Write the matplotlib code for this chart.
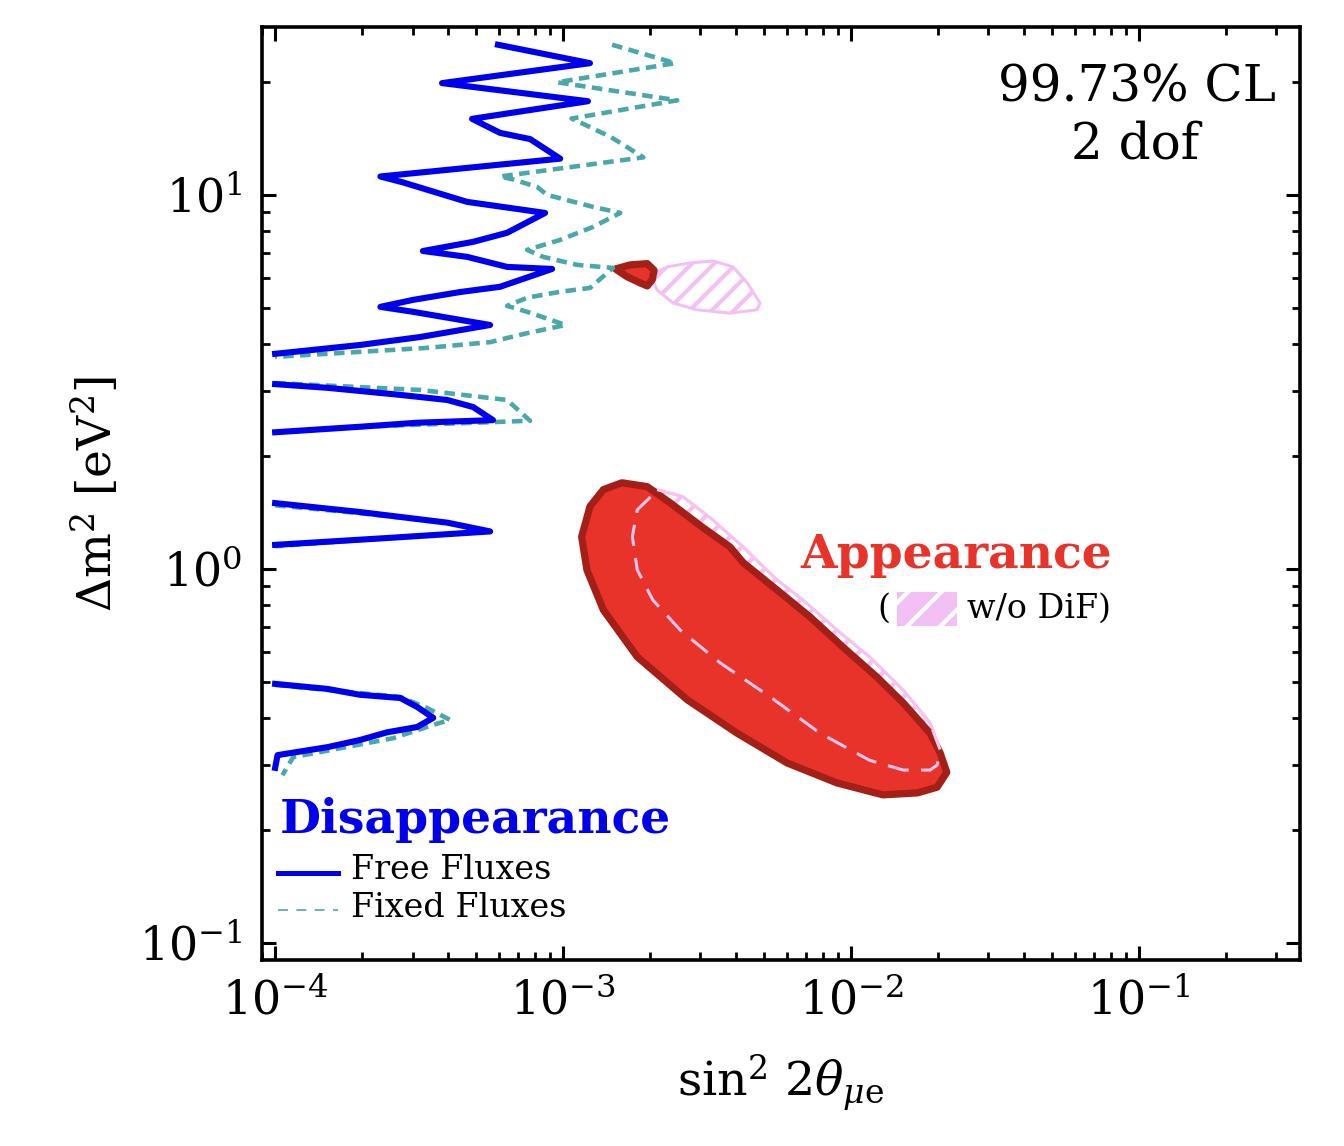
import matplotlib
matplotlib.use('Agg')
import matplotlib.pyplot as plt
from matplotlib.patches import Polygon, Rectangle
from matplotlib.lines import Line2D

plt.rcParams['font.family'] = ['DejaVu Serif']
plt.rcParams['mathtext.fontset'] = 'dejavuserif'
plt.rcParams['hatch.linewidth'] = 1.5

# ---------------- data (sin^2 2theta, dm^2) ----------------
# Disappearance, free fluxes (4 contour pieces)
free1_x = [5.94e-4, 1.24e-3, 3.80e-4, 1.22e-3, 4.83e-4, 6.04e-4, 7.68e-4, 9.77e-4, 2.32e-4,
           2.78e-4, 4.64e-4, 8.66e-4, 6.39e-4, 4.87e-4, 3.26e-4, 4.64e-4, 6.39e-4, 9.16e-4,
           6.04e-4, 4.39e-4, 3.01e-4, 2.32e-4, 3.01e-4, 5.58e-4, 3.19e-4, 1.97e-4, 1.0e-4]
free1_y = [25.2, 22.5, 19.9, 17.8, 15.97, 14.65, 14.1, 12.5, 11.2,
           10.8, 9.58, 8.95, 7.92, 7.49, 7.08, 6.83, 6.42, 6.34,
           5.68, 5.50, 5.24, 5.02, 4.87, 4.49, 4.17, 3.97, 3.76]
free2_x = [1.0e-4, 1.52e-4, 2.72e-4, 3.96e-4, 4.87e-4, 5.71e-4, 3.11e-4, 1.97e-4, 1.0e-4]
free2_y = [3.12, 3.05, 2.92, 2.83, 2.71, 2.50, 2.46, 2.40, 2.32]
free3_x = [1.0e-4, 1.97e-4, 3.96e-4, 5.58e-4, 2.45e-4, 1.0e-4]
free3_y = [1.50, 1.42, 1.33, 1.26, 1.21, 1.16]
free4_x = [1.0e-4, 1.52e-4, 1.97e-4, 2.72e-4, 3.11e-4, 3.54e-4, 3.11e-4, 2.45e-4, 1.97e-4,
           1.52e-4, 1.02e-4, 1.0e-4]
free4_y = [0.493, 0.478, 0.461, 0.452, 0.428, 0.400, 0.378, 0.366, 0.349, 0.334, 0.318, 0.294]

# Disappearance, fixed fluxes
fixed1_x = [1.48e-3, 2.45e-3, 9.53e-4, 2.49e-3, 1.07e-3, 1.15e-3, 1.46e-3, 1.55e-3, 1.90e-3,
            6.04e-4, 6.70e-4, 8.13e-4, 8.80e-4, 1.27e-3, 1.58e-3, 1.27e-3, 9.77e-4, 7.50e-4,
            8.52e-4, 1.12e-3, 1.49e-3, 1.24e-3, 9.77e-4, 7.50e-4, 6.39e-4, 7.50e-4, 1.02e-3,
            7.50e-4, 5.58e-4, 3.37e-4, 1.0e-4]
fixed1_y = [25.2, 22.5, 20.0, 17.9, 16.0, 15.6, 14.3, 13.9, 12.6,
            11.2, 11.0, 10.5, 10.0, 9.29, 8.95, 8.21, 7.58, 7.13,
            6.83, 6.50, 6.38, 5.64, 5.51, 5.31, 5.05, 4.87, 4.49,
            4.27, 4.04, 3.90, 3.69]
fixed2_x = [1.0e-4, 3.19e-4, 6.39e-4, 7.68e-4, 5.71e-4, 1.97e-4, 1.0e-4]
fixed2_y = [3.14, 3.01, 2.83, 2.49, 2.47, 2.40, 2.32]
fixed3_x = [1.0e-4, 1.97e-4, 3.96e-4, 5.58e-4, 2.45e-4, 1.0e-4]
fixed3_y = [1.48, 1.41, 1.33, 1.26, 1.21, 1.15]
fixed4_x = [1.0e-4, 2.72e-4, 3.37e-4, 4.05e-4, 3.54e-4, 2.57e-4, 1.155e-4, 1.06e-4]
fixed4_y = [0.490, 0.455, 0.425, 0.395, 0.383, 0.353, 0.314, 0.281]

# Appearance (filled) main island
app_x = [1.60e-3, 1.96e-3, 2.36e-3, 3.06e-3, 3.80e-3, 4.22e-3, 5.53e-3, 7.21e-3, 9.38e-3,
         1.23e-2, 1.52e-2, 1.88e-2, 2.04e-2, 2.15e-2, 1.99e-2, 1.70e-2, 1.29e-2, 8.93e-3,
         6.00e-3, 4.02e-3, 2.70e-3, 1.81e-3, 1.38e-3, 1.21e-3, 1.16e-3, 1.24e-3, 1.38e-3]
app_y = [1.70, 1.66, 1.50, 1.29, 1.145, 1.04, 0.879, 0.744, 0.618,
         0.514, 0.438, 0.364, 0.322, 0.286, 0.261, 0.252, 0.249, 0.268,
         0.303, 0.364, 0.447, 0.582, 0.777, 0.994, 1.22, 1.47, 1.63]
# Appearance small island
app2_x = [1.52e-3, 1.71e-3, 1.96e-3, 2.07e-3, 2.04e-3, 1.96e-3, 1.85e-3, 1.67e-3]
app2_y = [6.34, 6.50, 6.55, 6.29, 5.93, 5.71, 5.82, 6.04]

# Appearance without DiF (hatched)
nodif_x = [2.12e-3, 2.61e-3, 3.32e-3, 4.22e-3, 5.53e-3, 6.81e-3, 8.93e-3, 1.16e-2, 1.52e-2,
           1.88e-2, 2.04e-2, 1.99e-2, 1.88e-2, 1.52e-2, 1.16e-2, 7.80e-3, 5.24e-3, 3.51e-3,
           2.55e-3, 2.05e-3, 1.81e-3, 1.74e-3, 1.81e-3, 2.05e-3]
nodif_y = [1.63, 1.56, 1.35, 1.145, 0.935, 0.826, 0.687, 0.582, 0.474,
           0.388, 0.328, 0.299, 0.290, 0.290, 0.308, 0.364, 0.455, 0.561,
           0.687, 0.826, 0.994, 1.22, 1.44, 1.58]
nodif2_x = [2.12e-3, 2.30e-3, 2.76e-3, 3.32e-3, 3.89e-3, 4.36e-3, 4.83e-3, 4.72e-3, 3.80e-3,
            2.92e-3, 2.41e-3, 2.12e-3, 2.04e-3]
nodif2_y = [6.22, 6.42, 6.58, 6.66, 6.42, 5.82, 5.14, 4.93, 4.83, 4.93, 5.14, 5.57, 5.93]

# ---------------- styles ----------------
BLUE = '#0000ee'
TEAL = '#4ba8a8'
RED = '#e8332a'
DRED = '#a31f17'
PINK = '#f2c0f5'
PINKL = '#f7c6ef'

fig = plt.figure(figsize=(6.72, 5.73), dpi=200)
ax = fig.add_axes([0.1949, 0.1623, 0.7723, 0.8141])
ax.set_xscale('log')
ax.set_yscale('log')
ax.set_xlim(9.0e-5, 0.362)
ax.set_ylim(0.0901, 28.1)

# hatched regions (w/o DiF)
for xs, ys in [(nodif_x, nodif_y), (nodif2_x, nodif2_y)]:
    ax.add_patch(Polygon(list(zip(xs, ys)), closed=True, fill=False, hatch='///',
                         edgecolor=PINK, lw=1.1, zorder=1))
# appearance filled
for xs, ys in [(app_x, app_y), (app2_x, app2_y)]:
    ax.add_patch(Polygon(list(zip(xs, ys)), closed=True, facecolor=RED,
                         edgecolor=DRED, lw=2.6, joinstyle='round', zorder=2))
# dashed outline of w/o DiF on top of red
ax.plot(nodif_x + nodif_x[:1], nodif_y + nodif_y[:1], color=PINKL, lw=1.1,
        dashes=(7, 4), zorder=3)

# disappearance contours
for xs, ys in [(fixed1_x, fixed1_y), (fixed2_x, fixed2_y), (fixed3_x, fixed3_y), (fixed4_x, fixed4_y)]:
    ax.plot(xs, ys, color=TEAL, lw=1.65, dashes=(2.3, 1.4), dash_joinstyle='round', zorder=4)
for xs, ys in [(free1_x, free1_y), (free2_x, free2_y), (free3_x, free3_y), (free4_x, free4_y)]:
    ax.plot(xs, ys, color=BLUE, lw=2.2, zorder=5, solid_joinstyle='round')

# axes styling
for s in ax.spines.values():
    s.set_linewidth(1.3)
ax.tick_params(which='both', direction='in', top=True, right=True, labelsize=16.5)
ax.tick_params(which='major', length=5, width=1.1, pad=7)
ax.tick_params(which='minor', length=2.8, width=1.0)
ax.set_xlabel(r'$\sin^2\,2\theta_{\mu\mathrm{e}}$', fontsize=17, labelpad=10)
ax.set_ylabel(r'$\Delta\mathrm{m}^2\ [\mathrm{eV}^2]$', fontsize=17, labelpad=6)

# annotations
ax.text(0.843, 0.935, '99.73% CL', transform=ax.transAxes, ha='center', va='center', fontsize=18)
ax.text(0.841, 0.874, '2 dof', transform=ax.transAxes, ha='center', va='center', fontsize=18)

ax.text(0.819, 0.434, 'Appearance', transform=ax.transAxes, ha='right', va='center',
        fontsize=17, fontweight='bold', color=RED)
ax.text(0.599, 0.376, '(', transform=ax.transAxes, ha='center', va='center', fontsize=12)
ax.add_patch(Rectangle((0.612, 0.358), 0.058, 0.036, transform=ax.transAxes, facecolor=PINK,
                       hatch='//', edgecolor='white', lw=0, zorder=6))
ax.text(0.818, 0.376, 'w/o DiF)', transform=ax.transAxes, ha='right', va='center', fontsize=12)

ax.text(0.017, 0.150, 'Disappearance', transform=ax.transAxes, ha='left', va='center',
        fontsize=17, fontweight='bold', color=BLUE)
ax.add_line(Line2D([0.015, 0.073], [0.093, 0.093], transform=ax.transAxes, color=BLUE, lw=1.8))
ax.add_line(Line2D([0.015, 0.073], [0.054, 0.054], transform=ax.transAxes, color=TEAL, lw=0.6,
                   dashes=(6, 5)))
ax.text(0.086, 0.096, 'Free Fluxes', transform=ax.transAxes, ha='left', va='center', fontsize=12)
ax.text(0.086, 0.056, 'Fixed Fluxes', transform=ax.transAxes, ha='left', va='center', fontsize=12)

fig.savefig('out.png', dpi=200)
